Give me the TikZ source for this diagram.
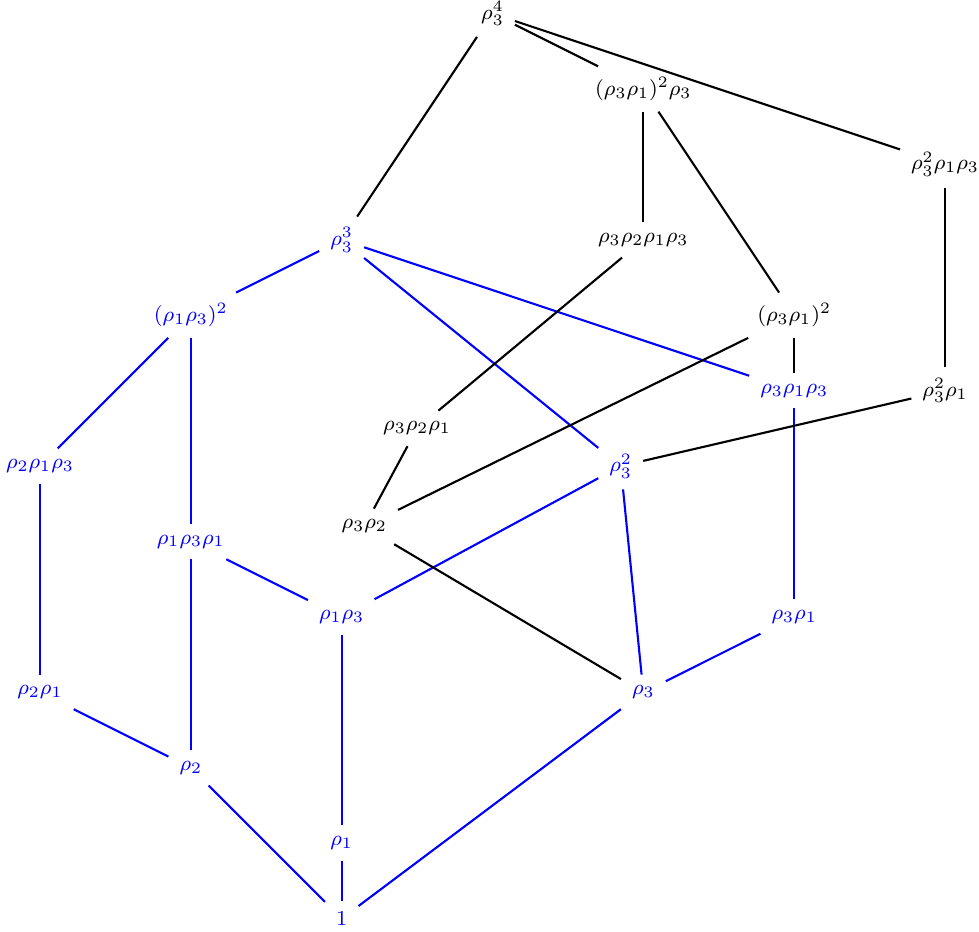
\documentclass[tikz,border=0pt]{standalone}
\usepackage{amsmath}
\usepackage{tikz}

\begin{document}
\begin{tikzpicture}[
  el/.style={font=\footnotesize, inner sep=4pt},
  bel/.style={el, text=blue},
  bl/.style={blue, thick},
  kl/.style={black, thick}]
\useasboundingbox (-0.53,-0.17) rectangle (12.45,12.18);
% Blue part of the lattice
\node[bel] (id) at (4,0) {$1$};
\node[bel] (r1) at (4,1) {$\rho_1$};
\node[bel] (r2) at (2,2) {$\rho_2$};
\node[bel] (r3) at (8,3) {$\rho_3$};
\node[bel] (r2r1) at (0,3) {$\rho_2\rho_1$};
\node[bel] (r1r3) at (4,4) {$\rho_1\rho_3$};
\node[bel] (r3r1) at (10,4) {$\rho_3\rho_1$};
\node[bel] (r1r3r1) at (2,5) {$\rho_1\rho_3\rho_1$};
\node[bel] (r2r1r3) at (0,6) {$\rho_2\rho_1\rho_3$};
\node[bel] (r3sq) at (7.7,6) {$\rho_3^2$};
\node[bel] (r3r1r3) at (10,7) {$\rho_3\rho_1\rho_3$};
\node[bel] (r1r3sq) at (2,8) {$(\rho_1\rho_3)^2$};
\node[bel] (r3cu) at (4,9) {$\rho_3^3$};

% Black part of the lattice
\node[el] (r3r2) at (4.3,5.2) {$\rho_3\rho_2$};
\node[el] (r3r2r1) at (5,6.5) {$\rho_3\rho_2\rho_1$};
\node[el] (r3sqr1) at (12,7) {$\rho_3^2\rho_1$};
\node[el] (r3r1sq) at (10,8) {$(\rho_3\rho_1)^2$};
\node[el] (r3r2r1r3) at (8,9) {$\rho_3\rho_2\rho_1\rho_3$};
\node[el] (r3sqr1r3) at (12,10) {$\rho_3^2\rho_1\rho_3$};
\node[el] (r3r1sqr3) at (8,11) {$(\rho_3\rho_1)^2\rho_3$};
\node[el] (r3qu) at (6,12) {$\rho_3^4$};

% Blue edges
\draw[bl] (id) -- (r1);
\draw[bl] (id) -- (r2);
\draw[bl] (id) -- (r3);
\draw[bl] (r2) -- (r2r1);
\draw[bl] (r2) -- (r1r3r1);
\draw[bl] (r1) -- (r1r3);
\draw[bl] (r3) -- (r3r1);
\draw[bl] (r3) -- (r3sq);
\draw[bl] (r2r1) -- (r2r1r3);
\draw[bl] (r1r3r1) -- (r1r3);
\draw[bl] (r1r3r1) -- (r1r3sq);
\draw[bl] (r1r3) -- (r3sq);
\draw[bl] (r3r1) -- (r3r1r3);
\draw[bl] (r2r1r3) -- (r1r3sq);
\draw[bl] (r1r3sq) -- (r3cu);
\draw[bl] (r3sq) -- (r3cu);
\draw[bl] (r3r1r3) -- (r3cu);

% Black edges
\draw[kl] (r3) -- (r3r2);
\draw[kl] (r3r2) -- (r3r2r1);
\draw[kl] (r3r2) -- (r3r1sq);
\draw[kl] (r3sq) -- (r3sqr1);
\draw[kl] (r3r2r1) -- (r3r2r1r3);
\draw[kl] (r3r1r3) -- (r3r1sq);
\draw[kl] (r3r1sq) -- (r3r1sqr3);
\draw[kl] (r3sqr1) -- (r3sqr1r3);
\draw[kl] (r3r2r1r3) -- (r3r1sqr3);
\draw[kl] (r3cu) -- (r3qu);
\draw[kl] (r3r1sqr3) -- (r3qu);
\draw[kl] (r3sqr1r3) -- (r3qu);
\end{tikzpicture}
\end{document}
